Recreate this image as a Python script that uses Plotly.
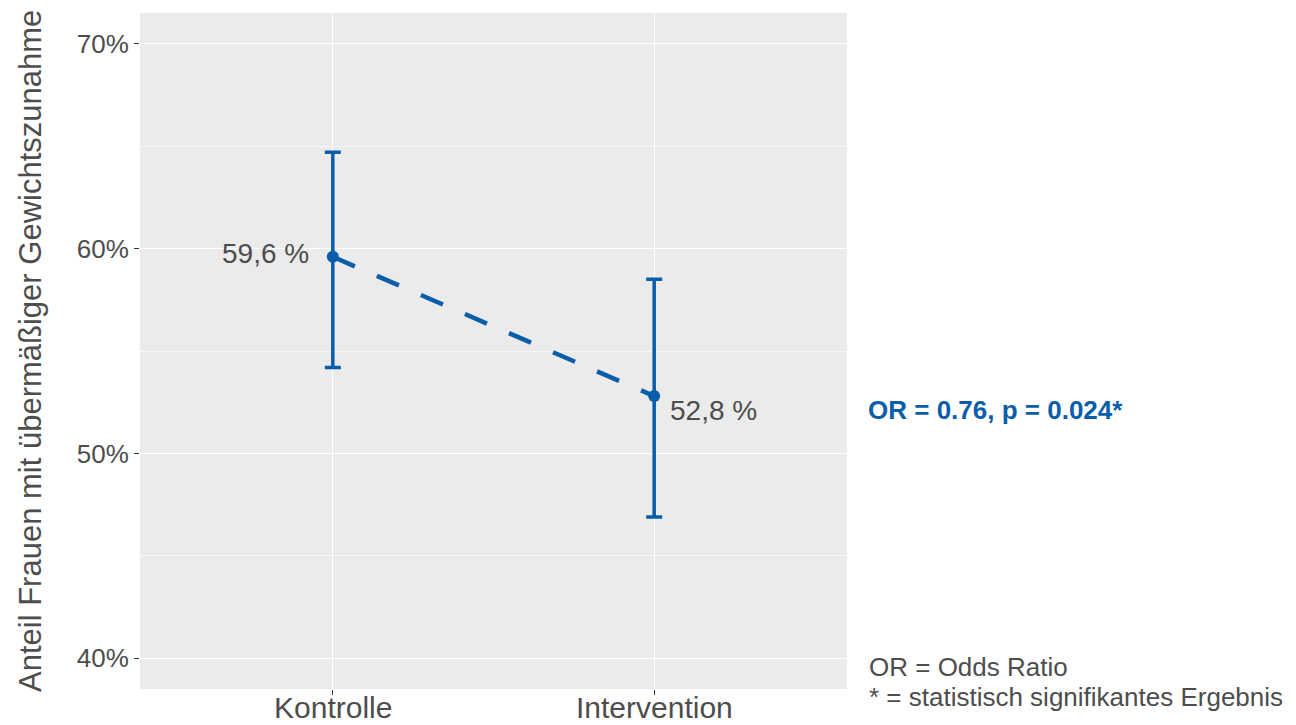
import plotly.graph_objects as go

# Gruppen und Anteile (in %) mit 95%-Konfidenzintervall
gruppen = ["Kontrolle", "Intervention"]
anteil = [59.6, 52.8]
ki_unten = [54.2, 46.9]
ki_oben = [64.7, 58.5]

y_ticks = [40, 50, 60, 70]
y_ticktext = ["40%", "50%", "60%", "70%"]
y_minor = [45, 55, 65]

blau = "#0A5DAA"
grau = "#4D4D4D"
font_family = "Arial, Liberation Sans, sans-serif"

fig = go.Figure()

# gestrichelte Verbindungslinie zwischen den Gruppen
fig.add_trace(go.Scatter(
    x=gruppen, y=anteil, mode="lines",
    line=dict(color=blau, width=4.5, dash="24px,24px"),
    hoverinfo="skip", showlegend=False,
))

# Punktschätzer mit Fehlerbalken
fig.add_trace(go.Scatter(
    x=gruppen, y=anteil, mode="markers",
    marker=dict(color=blau, size=12),
    error_y=dict(
        type="data", symmetric=False,
        array=[o - a for o, a in zip(ki_oben, anteil)],
        arrayminus=[a - u for a, u in zip(anteil, ki_unten)],
        color=blau, thickness=3.5, width=8,
    ),
    showlegend=False,
))

annotations = []

# Gruppenbeschriftung unter der x-Achse
for g in gruppen:
    annotations.append(dict(
        x=g, y=0, xref="x", yref="paper",
        text=g, showarrow=False, borderpad=0,
        xanchor="center", yanchor="middle", yshift=-18,
        font=dict(family=font_family, size=30, color=grau),
    ))

# Wertebeschriftungen
label_pos = [dict(xanchor="right", xshift=-22, yshift=3),
             dict(xanchor="left", xshift=14, yshift=-14)]
for g, a, pos in zip(gruppen, anteil, label_pos):
    annotations.append(dict(
        x=g, y=a, xref="x", yref="y",
        text=f"{a:.1f} %".replace(".", ","),
        showarrow=False, yanchor="middle",
        font=dict(family=font_family, size=28, color=grau),
        **pos,
    ))

# y-Achsentitel
annotations.append(dict(
    x=-110 / 707, y=0.5, xref="paper", yref="paper",
    text="Anteil Frauen mit übermäßiger Gewichtszunahme",
    textangle=-90, showarrow=False,
    xanchor="center", yanchor="middle",
    font=dict(family=font_family, size=31, color=grau),
))

# Ergebnis und Legende rechts
annotations.append(dict(
    x=726 / 707, y=(689 - 410) / 676, xref="paper", yref="paper",
    text="<b>OR = 0.76, p = 0.024*</b>",
    showarrow=False, xanchor="left", yanchor="middle",
    font=dict(family=font_family, size=26, color=blau),
))
annotations.append(dict(
    x=727 / 707, y=(689 - 667) / 676, xref="paper", yref="paper",
    text="OR = Odds Ratio",
    showarrow=False, xanchor="left", yanchor="middle",
    font=dict(family=font_family, size=26, color=grau),
))
annotations.append(dict(
    x=727 / 707, y=(689 - 697) / 676, xref="paper", yref="paper",
    text="* = statistisch signifikantes Ergebnis",
    showarrow=False, xanchor="left", yanchor="middle",
    font=dict(family=font_family, size=26, color=grau),
))

fig.update_layout(
    width=1296, height=725,
    margin=dict(l=140, r=449, t=13, b=36, autoexpand=False),
    paper_bgcolor="white",
    plot_bgcolor="#EBEBEB",
    font=dict(family=font_family, color=grau),
    annotations=annotations,
    xaxis=dict(
        type="category", range=[-0.6, 1.6], automargin=False,
        showgrid=True, gridcolor="white", gridwidth=1.2,
        ticks="outside", ticklen=5, tickwidth=1, tickcolor="#333333",
        showticklabels=False,
        zeroline=False, showline=False, fixedrange=True,
    ),
    yaxis=dict(
        range=[38.5, 71.5], automargin=False,
        tickvals=y_ticks, ticktext=y_ticktext,
        showgrid=True, gridcolor="white", gridwidth=1.2,
        ticks="outside", ticklen=5, tickwidth=1, tickcolor="#333333",
        tickfont=dict(family=font_family, size=26, color=grau),
        zeroline=False, showline=False, fixedrange=True,
        minor=dict(tickvals=y_minor, showgrid=True, gridcolor="#F7F7F7",
                   gridwidth=0.6, ticks=""),
    ),
)

fig.write_html("out.html")
